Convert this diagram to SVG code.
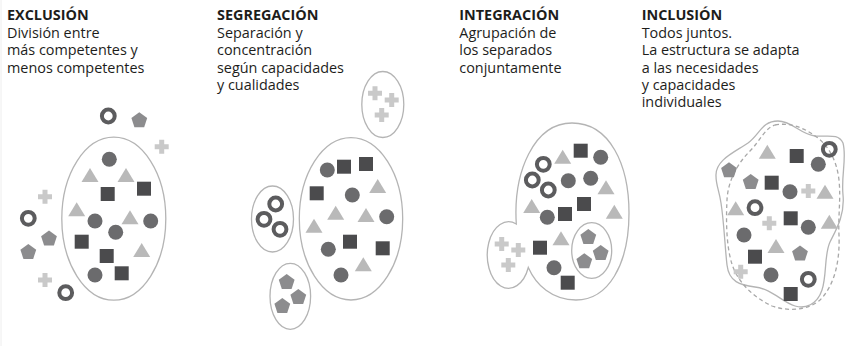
<svg xmlns="http://www.w3.org/2000/svg" xmlns:xlink="http://www.w3.org/1999/xlink" width="845" height="346" viewBox="0 0 845 346">
<style>
.t{font-family:"Open Sans","Noto Sans","DejaVu Sans",sans-serif;font-size:14.4px;fill:#1d1d1b}
.b{font-weight:bold}
.ol{fill:#fff;stroke:#b4b4b4;stroke-width:1.3}
.dash{fill:none;stroke:#a8a8a8;stroke-width:1.3;stroke-dasharray:4 3}
</style>
<defs>
<rect id="sq" x="-7" y="-7" width="14" height="14" fill="#4b4b4d"/>
<circle id="ci" r="7.5" fill="#6b6b6d"/>
<polygon id="tri" points="0,-7 8.5,7 -8.5,7" fill="#b9b9b9"/>
<polygon id="pen" points="0,-8.3 7.9,-2.56 4.88,6.7 -4.88,6.7 -7.9,-2.56" fill="#8c8c8e"/>
<circle id="ring" r="6.4" fill="none" stroke="#5c5c5e" stroke-width="4"/>
<path id="plus" d="M-7,-2.5H-2.5V-7H2.5V-2.5H7V2.5H2.5V7H-2.5V2.5H-7Z" fill="#c9c9c9"/>
</defs>
<rect width="845" height="346" fill="#fff"/>
<line x1="1" y1="0" x2="1" y2="346" stroke="#eeeeee" stroke-width="1"/>

<g id="labels">
<text class="t b" x="7" y="20">EXCLUSIÓN</text>
<text class="t" x="7" y="37.7">División entre</text>
<text class="t" x="7" y="55.1">más competentes y</text>
<text class="t" x="7" y="72.6">menos competentes</text>
<text class="t b" x="217" y="20">SEGREGACIÓN</text>
<text class="t" x="217" y="37.7">Separación y</text>
<text class="t" x="217" y="55.1">concentración</text>
<text class="t" x="217" y="72.6">según capacidades</text>
<text class="t" x="217" y="90">y cualidades</text>
<text class="t b" x="459.3" y="20">INTEGRACIÓN</text>
<text class="t" x="459.3" y="37.7">Agrupación de</text>
<text class="t" x="459.3" y="55.1">los separados</text>
<text class="t" x="459.3" y="72.6">conjuntamente</text>
<text class="t b" x="641.7" y="20">INCLUSIÓN</text>
<text class="t" x="641.7" y="37.7">Todos juntos.</text>
<text class="t" x="641.7" y="55.1">La estructura se adapta</text>
<text class="t" x="641.7" y="72.6">a las necesidades</text>
<text class="t" x="641.7" y="90">y capacidades</text>
<text class="t" x="641.7" y="107.4">individuales</text>
</g>

<g id="exclusion">
<ellipse id="exclusion-group" class="ol" cx="113.8" cy="218.7" rx="52" ry="81.5"/>
<use href="#ring" x="108.3" y="116"/>
<use href="#pen" x="139.3" y="120.5"/>
<use href="#plus" x="161.7" y="146.7"/>
<use href="#ci" x="109.3" y="159.3"/>
<use href="#tri" x="90" y="175"/>
<use href="#tri" x="126" y="175"/>
<use href="#sq" x="107.7" y="194"/>
<use href="#sq" x="144" y="188.7"/>
<use href="#tri" x="76.7" y="209.3"/>
<use href="#ci" x="95" y="221"/>
<use href="#tri" x="130" y="217.3"/>
<use href="#ci" x="150.7" y="221"/>
<use href="#ci" x="115.7" y="232.3"/>
<use href="#sq" x="81.7" y="241.7"/>
<use href="#sq" x="106.7" y="256"/>
<use href="#tri" x="141.7" y="250"/>
<use href="#ci" x="95" y="275"/>
<use href="#sq" x="121.7" y="273.3"/>
<use href="#plus" x="45" y="196.7"/>
<use href="#ring" x="28.3" y="218.3"/>
<use href="#pen" x="49" y="238.8"/>
<use href="#pen" x="28.3" y="252.2"/>
<use href="#plus" x="45" y="280"/>
<use href="#ring" x="65.7" y="292.7"/>
</g>

<g id="segregacion">
<ellipse class="ol" cx="382.8" cy="104.5" rx="21" ry="33"/>
<use href="#plus" x="375" y="93.3"/>
<use href="#plus" x="391.7" y="100"/>
<use href="#plus" x="381.7" y="115"/>
<ellipse class="ol" cx="351" cy="218.8" rx="51.7" ry="81.2"/>
<use href="#ci" x="327.3" y="170"/>
<use href="#sq" x="344" y="166.7"/>
<use href="#sq" x="366" y="164"/>
<use href="#sq" x="316.7" y="193.3"/>
<use href="#ci" x="352.3" y="195"/>
<use href="#tri" x="377.7" y="186"/>
<use href="#tri" x="335.7" y="212.7"/>
<use href="#tri" x="366" y="215"/>
<use href="#ci" x="386.7" y="216.7"/>
<use href="#tri" x="314" y="225.7"/>
<use href="#sq" x="350" y="241.7"/>
<use href="#ci" x="328.3" y="249.3"/>
<use href="#sq" x="382.7" y="248.3"/>
<use href="#tri" x="363.3" y="264.3"/>
<use href="#ci" x="341" y="275"/>
<ellipse class="ol" cx="272.5" cy="219" rx="21" ry="33"/>
<use href="#ring" x="275.7" y="204"/>
<use href="#ring" x="264" y="219.3"/>
<use href="#ring" x="280" y="229.3"/>
<ellipse class="ol" cx="290.3" cy="296.3" rx="20.3" ry="33"/>
<use href="#pen" x="286.7" y="282.2"/>
<use href="#pen" x="298.3" y="297.2"/>
<use href="#pen" x="282.3" y="306.2"/>
</g>

<g id="integracion">
<path class="ol" d="M516.3,224 A21.3,33.3 0 1 0 528.3,267.5 C536,285 552,300 576,300 C608,300 629,265 629,213 C629,165 610,123 572,123 C534,123 513,172 516.3,224 Z"/>
<use href="#sq" x="580.7" y="150.7"/>
<use href="#tri" x="562.7" y="156.7"/>
<use href="#ci" x="600.7" y="157.3"/>
<use href="#ring" x="543.3" y="164.3"/>
<use href="#ring" x="532.3" y="180"/>
<use href="#ci" x="568.3" y="180.7"/>
<use href="#ci" x="590.7" y="178.3"/>
<use href="#ring" x="548.3" y="190"/>
<use href="#tri" x="606" y="187.3"/>
<use href="#tri" x="531.7" y="206"/>
<use href="#sq" x="584" y="204"/>
<use href="#sq" x="565" y="214"/>
<use href="#ci" x="547.3" y="217.3"/>
<use href="#tri" x="614.3" y="211.7"/>
<ellipse class="ol" cx="591.7" cy="250.5" rx="20" ry="27.8"/>
<use href="#pen" x="588.3" y="237.2"/>
<use href="#pen" x="600.7" y="253.2"/>
<use href="#pen" x="584.3" y="261.5"/>
<use href="#tri" x="561" y="238.3"/>
<use href="#sq" x="540" y="247.7"/>
<use href="#ci" x="554" y="267.7"/>
<use href="#sq" x="567.7" y="282.7"/>
<use href="#plus" x="501.7" y="244"/>
<use href="#plus" x="518.3" y="250"/>
<use href="#plus" x="508.3" y="265"/>
</g>

<g id="inclusion">
<path class="ol" d="M716,176 C715,160 735,152 748,143 C760,134 762,121 778,121 C792,121 800,134 815,136 C828,137 838,133 843,143 C847,158 841,175 843,195 C845,215 836,230 830,242 C824,255 827,275 822,290 C817,305 805,309 795,306 C782,302 772,289 755,287 C740,285 729,282 727,265 C725,248 724,222 721,203 C719,190 716,185 716,176 Z"/>
<path class="dash" d="M775,125 C790,122 805,128 818,138 C830,148 837,162 839,180 C841,200 838,215 839,235 C840,260 835,285 820,300 C808,310 790,312 772,306 C755,298 740,285 733,267 C726,248 726,220 727,200 C728,180 738,163 750,151 C760,141 765,128 775,125 Z"/>
<use href="#tri" x="767.3" y="151.7"/>
<use href="#sq" x="796.7" y="156"/>
<use href="#ring" x="829.3" y="149.3"/>
<use href="#ci" x="818.3" y="164.3"/>
<use href="#pen" x="729" y="170.5"/>
<use href="#pen" x="750.7" y="182.2"/>
<use href="#sq" x="771.7" y="182.7"/>
<use href="#ci" x="790" y="191.7"/>
<use href="#plus" x="808.3" y="191"/>
<use href="#tri" x="825" y="191.7"/>
<use href="#tri" x="735.7" y="208.3"/>
<use href="#ring" x="755" y="207.7"/>
<use href="#plus" x="769.3" y="223.3"/>
<use href="#sq" x="790.7" y="218.3"/>
<use href="#ci" x="808.3" y="227.3"/>
<use href="#tri" x="829.3" y="221.7"/>
<use href="#ci" x="744" y="235"/>
<use href="#tri" x="776" y="246"/>
<use href="#pen" x="800" y="253.8"/>
<use href="#sq" x="755" y="256.7"/>
<use href="#plus" x="740.7" y="271.7"/>
<use href="#ci" x="771" y="275"/>
<use href="#ring" x="808.3" y="279.3"/>
<use href="#sq" x="790.7" y="294"/>
</g>
</svg>
